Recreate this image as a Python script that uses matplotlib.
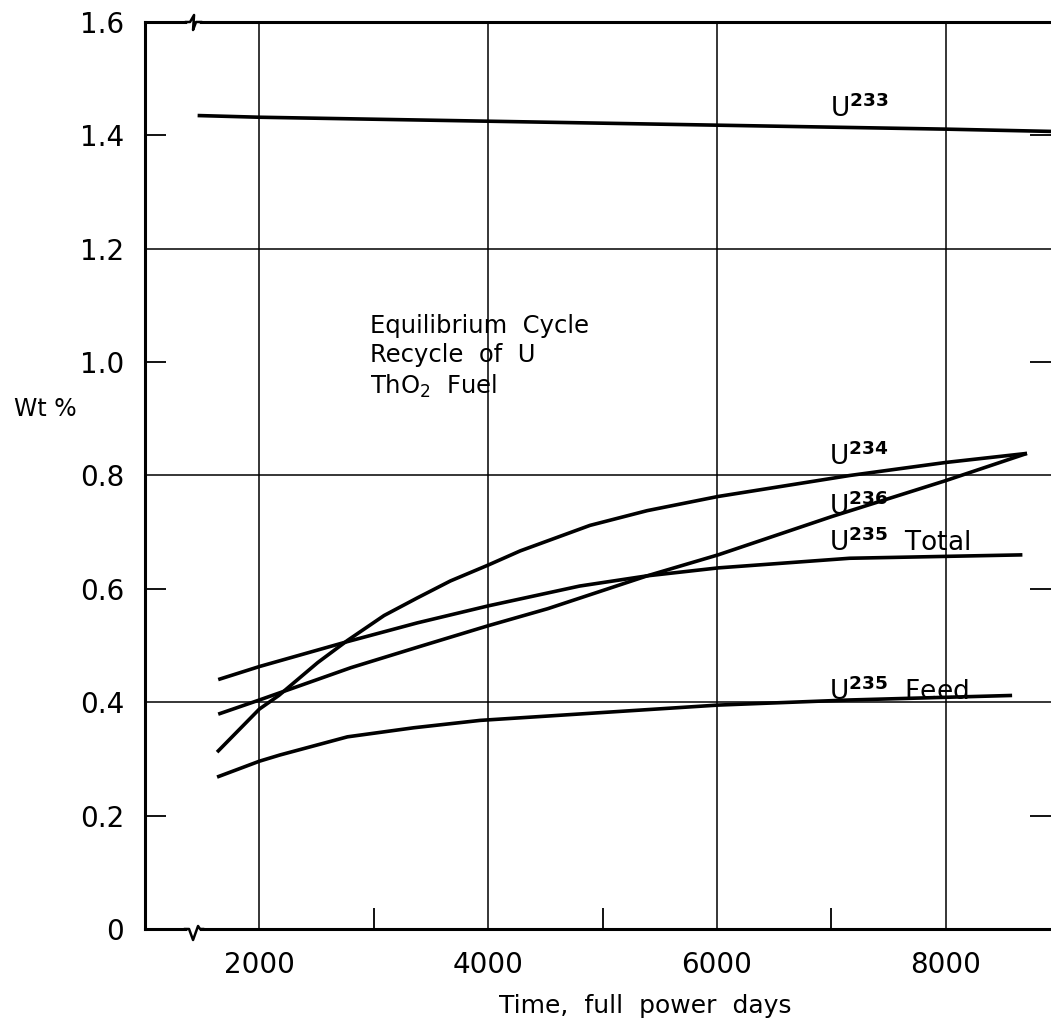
import numpy as np
import matplotlib.pyplot as plt

# (time in full power days, wt %)
days_u233 = [1460, 2000, 4000, 6000, 8000, 8920]
wt_u233 = [1.435, 1.432, 1.425, 1.418, 1.411, 1.407]

days_u234 = [1630, 2000, 2170, 2510, 2770, 3090, 3380, 3670, 4000, 4280, 4890,
             5390, 6010, 7160, 8000, 8710]
wt_u234 = [0.312, 0.388, 0.412, 0.470, 0.509, 0.553, 0.584, 0.614, 0.642, 0.667,
           0.712, 0.738, 0.763, 0.800, 0.823, 0.839]

days_u236 = [1640, 2000, 2800, 3380, 4000, 4520, 5390, 6010, 7010, 8000, 8710]
wt_u236 = [0.379, 0.404, 0.461, 0.497, 0.535, 0.565, 0.623, 0.660, 0.728, 0.791, 0.839]

days_tot = [1640, 2000, 2770, 3380, 4000, 4800, 5390, 6010, 7160, 8670]
wt_tot = [0.440, 0.463, 0.507, 0.540, 0.570, 0.605, 0.623, 0.637, 0.654, 0.660]

days_feed = [1630, 2000, 2180, 2770, 3350, 3930, 6010, 7160, 8580]
wt_feed = [0.268, 0.296, 0.307, 0.339, 0.355, 0.368, 0.395, 0.404, 0.412]

xmajor = [2000, 4000, 6000, 8000]
xminor = [3000, 5000, 7000]
ymajor = [0, 0.4, 0.8, 1.2, 1.6]
ymajor_lab = ['0', '0.4', '0.8', '1.2', '1.6']
yminor = [0.2, 0.6, 1.0, 1.4]
yminor_lab = ['0.2', '0.6', '1.0', '1.4']
x_break = 1420

plt.rcParams['font.family'] = ['DejaVu Sans']
plt.rcParams['mathtext.fontset'] = 'dejavusans'

fig = plt.figure(figsize=(10.51, 10.26), dpi=100)
ax = fig.add_axes([145/1051, 1-929/1026, 906/1051, 907/1026])
x0, x1 = 1000, 8920
ax.set_xlim(x0, x1)
ax.set_ylim(0, 1.6)

lw = 2.6
for d, w in [(days_u233, wt_u233), (days_u234, wt_u234), (days_u236, wt_u236),
             (days_tot, wt_tot), (days_feed, wt_feed)]:
    ax.plot(d, w, color='k', lw=lw, solid_capstyle='butt', zorder=3)

# grid
for xv in xmajor:
    ax.axvline(xv, color='k', lw=1.1, zorder=1)
for yv in ymajor:
    ax.axhline(yv, color='k', lw=1.1, zorder=1)

ax.set_xticks(xmajor)
ax.set_xticks(xminor, minor=True)
ax.set_yticks(ymajor)
ax.set_yticklabels(ymajor_lab)
ax.set_yticks(yminor, minor=True)
ax.set_yticklabels(yminor_lab, minor=True)
ax.tick_params(which='major', length=0, labelsize=20, pad=15)
ax.tick_params(axis='x', which='major', pad=16)
ax.tick_params(which='minor', direction='in', length=15, width=1.3, labelsize=20, pad=15)
ax.tick_params(axis='y', which='minor', right=True)

ax.spines['right'].set_visible(False)
for s in ['left', 'top', 'bottom']:
    ax.spines[s].set_linewidth(2.2)

ax.set_xlabel('Time,  full  power  days', fontsize=18)
ax.xaxis.set_label_coords(0.552, -0.072)
ax.set_ylabel('Wt %', fontsize=17, rotation=0)
ax.yaxis.set_label_coords(-0.110, 0.56)

ax.text(2970, 1.085, 'Equilibrium  Cycle\nRecycle  of  U\nThO$_2$  Fuel',
        fontsize=17.5, va='top', ha='left', linespacing=1.28)

lab = dict(fontsize=19, ha='left', va='baseline', zorder=4)
ax.text(6990, 1.432, r'U$^{\mathbf{233}}$', **lab)
ax.text(6980, 0.818, r'U$^{\mathbf{234}}$', **lab)
ax.text(6980, 0.730, r'U$^{\mathbf{236}}$', **lab)
ax.text(6980, 0.667, r'U$^{\mathbf{235}}$  Total', **lab)
ax.text(6980, 0.404, r'U$^{\mathbf{235}}$  Feed', **lab)

# axis break marks
xa = (x_break - x0) / (x1 - x0)
px, py = 1/906, 1/907
top = [(-7, 0), (-3, 0), (1, 7), (0, -8), (3, 0), (8, 0)]
bot = [(-8, 0), (-4, 0), (0, -11), (5, 3), (7, 0), (10, 0)]
for pts, ybase in [(top, 1.0), (bot, 0.0)]:
    ax.plot([xa - 3*px, xa + 4*px], [ybase, ybase], color='white', lw=4,
            transform=ax.transAxes, clip_on=False, zorder=5)
    ax.plot([xa + p[0]*px for p in pts], [ybase + p[1]*py for p in pts],
            color='k', lw=1.8, transform=ax.transAxes, clip_on=False, zorder=6)

fig.savefig('out.png', dpi=100, facecolor='white')
